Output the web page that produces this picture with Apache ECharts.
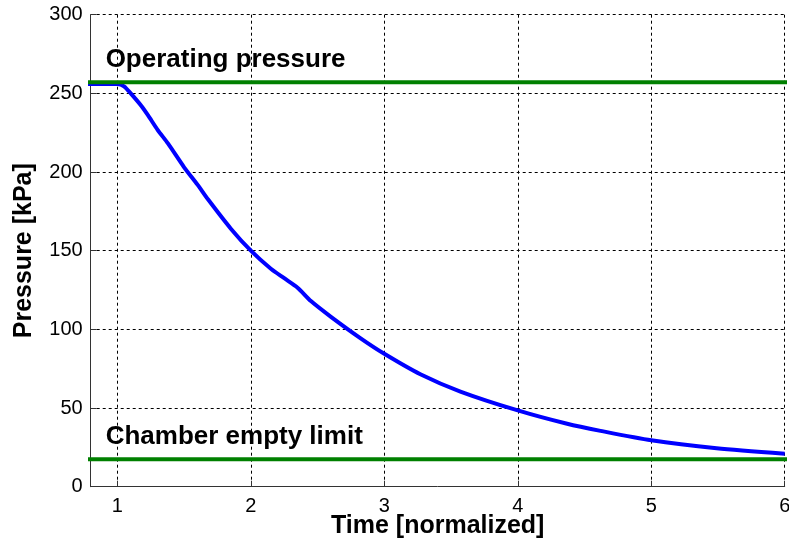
<!DOCTYPE html>
<html>
<head>
<meta charset="utf-8">
<script src="https://cdn.jsdelivr.net/npm/echarts@6/dist/echarts.min.js"></script>
<style>
html,body{margin:0;padding:0;background:#fff;}
#chart{width:789px;height:548px;}
</style>
</head>
<body>
<div id="chart"></div>
<script>
// Blue pressure curve
const timeVals = [0.77, 1.0, 1.05, 1.1, 1.18, 1.23, 1.3, 1.38, 1.5, 1.6, 1.68, 1.85, 2.0, 2.15, 2.25, 2.35, 2.45, 2.6, 2.82, 3.0, 3.27, 3.57, 4.0, 4.37, 4.62, 5.0, 5.49, 6.0];
const pressure = [256, 256, 254.5, 250, 242, 236, 227, 218, 203, 192, 182.5, 164, 150, 138.5, 132.5, 126.5, 118, 108, 94.5, 84.5, 71.5, 60.5, 48.5, 40, 35.5, 29.5, 24.5, 21];
// Horizontal reference levels
const operatingPressure = 257;
const emptyLimit = 17.5;
const levelSpan = [0.77, 6.03];
// Annotation labels
const labelTexts = ['Operating pressure', 'Chamber empty limit'];
const labelX = [0.912, 0.912];
const labelY = [271.5, 31.5];
// Axis ranges
const xMin = 0.8, xMax = 6;
const yMin = 0, yMax = 300, yStep = 50;

const font = 'Liberation Sans, Arial, sans-serif';
const chart = echarts.init(document.getElementById('chart'));
chart.setOption({
  animation: false,
  backgroundColor: '#fff',
  grid: {left: 90.7, right: 4.3, top: 14.7, bottom: 61.3, containLabel: false, outerBoundsMode: 'none'},
  xAxis: {
    type: 'value', min: xMin, max: xMax, splitNumber: 5,
    name: 'Time [normalized]', nameLocation: 'middle', nameGap: 27, nameMoveOverlap: false,
    nameTextStyle: {fontFamily: font, fontWeight: 'bold', fontSize: 25, color: '#000'},
    axisLine: {show: true, onZero: false, lineStyle: {color: '#333', width: 1}},
    axisTick: {show: true, inside: true, length: 6, lineStyle: {color: '#333'}},
    axisLabel: {showMinLabel: false, fontFamily: font, fontSize: 20, color: '#000', margin: 10},
    splitLine: {show: true, showMinLine: false, showMaxLine: true, lineStyle: {color: '#000', type: [3, 3], width: 1}}
  },
  yAxis: {
    type: 'value', min: yMin, max: yMax, interval: yStep,
    name: 'Pressure [kPa]', nameLocation: 'middle', nameGap: 54, nameMoveOverlap: false,
    nameTextStyle: {fontFamily: font, fontWeight: 'bold', fontSize: 25, color: '#000'},
    axisLine: {show: true, onZero: false, lineStyle: {color: '#333', width: 1}},
    axisTick: {show: true, inside: true, length: 6, lineStyle: {color: '#333'}},
    axisLabel: {fontFamily: font, fontSize: 20, color: '#000', margin: 8},
    splitLine: {show: true, showMinLine: false, showMaxLine: true, lineStyle: {color: '#000', type: [3, 3], width: 1}}
  },
  series: [
    {
      type: 'line', clip: false, showSymbol: false, symbol: 'none', smooth: 0.25,
      lineStyle: {color: '#0000ff', width: 4},
      data: timeVals.map((t, i) => [t, pressure[i]]),
      z: 2
    },
    {
      type: 'line', clip: false, symbol: 'none',
      lineStyle: {color: '#008000', width: 4},
      data: levelSpan.map(t => [t, operatingPressure]),
      z: 3
    },
    {
      type: 'line', clip: false, symbol: 'none',
      lineStyle: {color: '#008000', width: 4},
      data: levelSpan.map(t => [t, emptyLimit]),
      z: 3
    },
    {
      type: 'scatter', symbolSize: 0, clip: false,
      itemStyle: {opacity: 1},
      label: {
        show: true, position: 'right', distance: 0,
        formatter: p => labelTexts[p.dataIndex],
        fontFamily: font, fontWeight: 'bold', fontSize: 26, color: '#000', opacity: 1
      },
      data: labelX.map((x, i) => [x, labelY[i]]),
      z: 4
    }
  ]
});
</script>
</body>
</html>
